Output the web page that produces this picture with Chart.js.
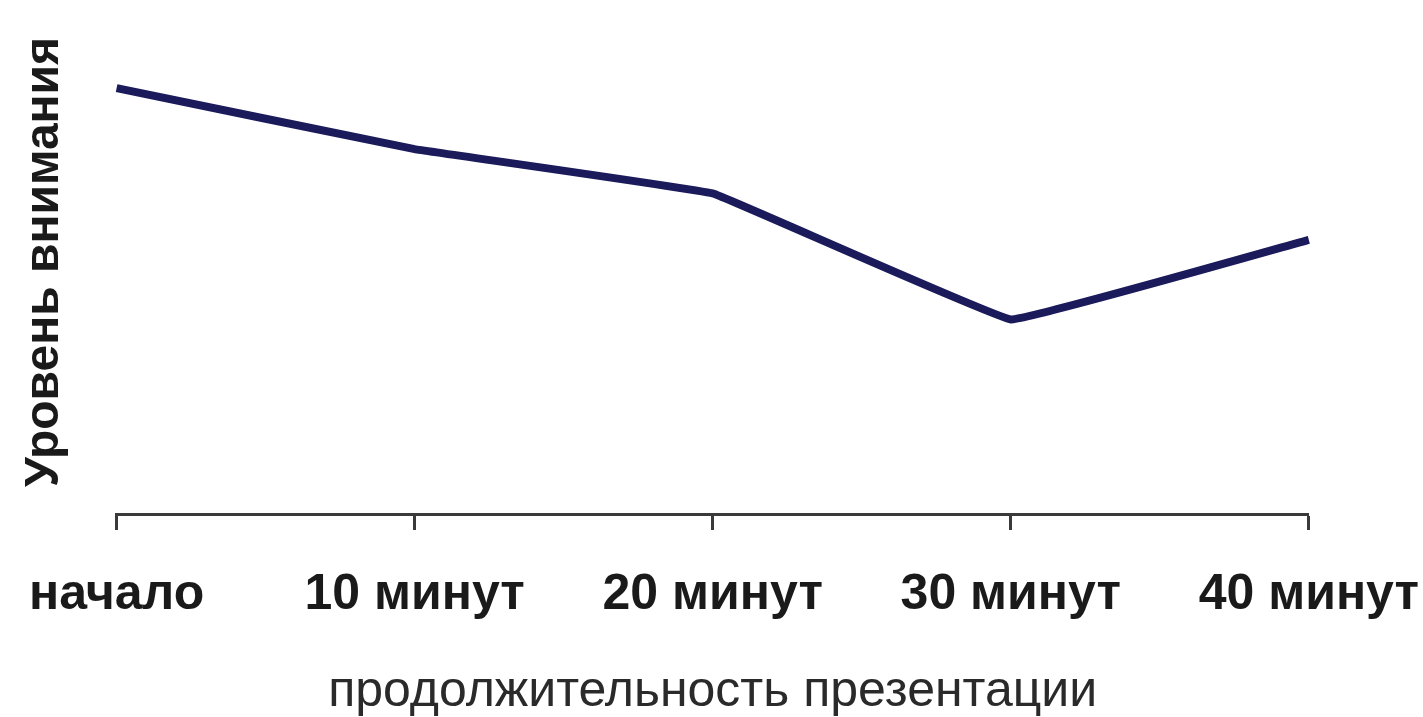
<!DOCTYPE html>
<html>
<head>
<meta charset="utf-8">
<script src="https://cdn.jsdelivr.net/npm/chart.js@4"></script>
<style>
html,body{margin:0;padding:0;background:#fff;}
#wrap{width:1423px;height:717px;position:relative;}
</style>
</head>
<body>
<div id="wrap"><canvas id="c" width="1423" height="717"></canvas></div>
<script>
const categories = ["начало", "10 минут", "20 минут", "30 минут", "40 минут"];
const attention = [84.5, 72.4, 63.6, 38.6, 54.4];
const xTitle = "продолжительность презентации";
const yTitle = "Уровень внимания";

const FONT = "'Liberation Sans', Arial, sans-serif";

new Chart(document.getElementById('c'), {
  type: 'line',
  data: {
    labels: categories,
    datasets: [{
      data: attention,
      borderColor: '#1b1b5c',
      borderWidth: 8,
      pointRadius: 0,
      tension: 0.05,
      fill: false
    }]
  },
  options: {
    responsive: false,
    animation: false,
    devicePixelRatio: 1,
    layout: { padding: { left: 16, right: 4, top: 10, bottom: 0 } },
    plugins: { legend: { display: false }, tooltip: { enabled: false } },
    scales: {
      x: {
        offset: false,
        grid: { display: true, drawOnChartArea: false, drawTicks: true, tickLength: 16, tickWidth: 3, tickColor: '#3a3a3a' },
        border: { display: true, color: '#3a3a3a', width: 3 },
        ticks: { color: '#1a1a1a', padding: 4, maxRotation: 0, autoSkip: false,
          font: { family: FONT, size: 50, weight: 'bold', lineHeight: 2.44 } },
        title: { display: true, text: xTitle, color: '#2a2a2a', padding: { top: 7, bottom: 0 },
          font: { family: FONT, size: 50, lineHeight: 1.0 } }
      },
      y: {
        min: 0, max: 100,
        grid: { display: false },
        border: { display: false },
        ticks: { display: false },
        title: { display: true, text: yTitle, color: '#1a1a1a', padding: { top: 0, bottom: 35 },
          font: { family: FONT, size: 48, weight: 'bold', lineHeight: 1.2 } }
      }
    }
  }
});
</script>
</body>
</html>
